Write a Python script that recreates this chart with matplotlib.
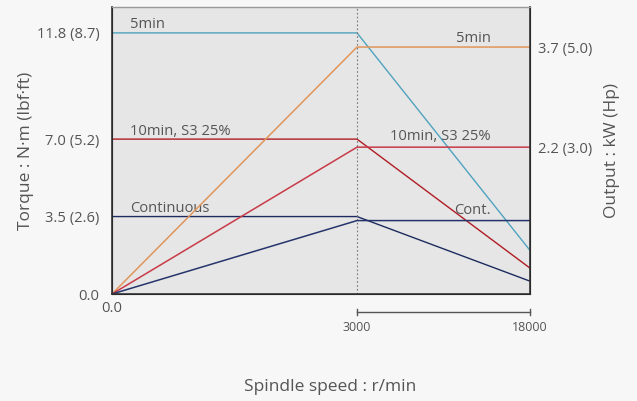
import numpy as np
import matplotlib
matplotlib.use('Agg')
from matplotlib import pyplot as plt
from matplotlib import transforms

plt.rcParams['font.family'] = ['Open Sans', 'DejaVu Sans']

# spindle speed points (r/min)
speed = [0, 3000, 18000]

# torque curves, N·m
torque_5min = [11.8, 11.8, 1.97]
torque_10min = [7.0, 7.0, 1.17]
torque_cont = [3.5, 3.5, 0.58]

# output curves, kW
power_5min = [0.0, 3.7, 3.7]
power_10min = [0.0, 2.2, 2.2]
power_cont = [0.0, 1.1, 1.1]

torque_ticks = [0.0, 3.5, 7.0, 11.8]
torque_labels = ['0.0', '3.5 (2.6)', '7.0 (5.2)', '11.8 (8.7)']
power_ticks = [2.2, 3.7]
power_labels = ['2.2 (3.0)', '3.7 (5.0)']

# x axis is piecewise: 0-3000 gets more room than 3000-18000
pos = [0, 245, 418]
fwd = lambda v: np.interp(v, speed, pos)
inv = lambda v: np.interp(v, pos, speed)

txt = '#555555'
fs = 10.6
fig = plt.figure(figsize=(6.37, 4.01), dpi=100, facecolor='#f7f7f7')
ax = fig.add_axes([112/637, 1-294/401, 418/637, 287/401])
ax.set_facecolor('#e6e6e6')
ax.set_xscale('function', functions=(fwd, inv))
ax.set_xlim(0, 18000)
ax.set_ylim(0, 12.97)

ax2 = ax.twinx()
ax2.set_ylim(0, 4.30)

ax.plot(speed, torque_5min, color='#4fa3bf', lw=1)
ax.plot(speed, torque_10min, color='#b01c24', lw=1)
ax.plot(speed, torque_cont, color='#1d2b5e', lw=1)
ax2.plot(speed, power_5min, color='#e0955a', lw=1.1)
ax2.plot(speed, power_10min, color='#c83a48', lw=1.1)
ax2.plot(speed, power_cont, color='#25356b', lw=1.1)

ax.axvline(3000, color='#777777', lw=0.8, ls=(0, (1.5, 2)))

ax.text(220, 12.0, '5min', fontsize=fs, color=txt)
ax.text(220, 7.2, '10min, S3 25%', fontsize=fs, color=txt)
ax.text(220, 3.7, 'Continuous', fontsize=fs, color=txt)
ax2.text(14600, 3.78, '5min', fontsize=fs, color=txt, ha='right')
ax2.text(14600, 2.3, '10min, S3 25%', fontsize=fs, color=txt, ha='right')
ax2.text(14600, 1.2, 'Cont.', fontsize=fs, color=txt, ha='right')

ax.set_yticks(torque_ticks)
ax.set_yticklabels(torque_labels)
ax2.set_yticks(power_ticks)
ax2.set_yticklabels(power_labels)
ax.set_xticks([0])
ax.set_xticklabels(['0.0'])
ax.tick_params(axis='y', length=0, labelsize=fs, labelcolor=txt, pad=9)
ax.tick_params(axis='x', length=0, labelsize=fs, labelcolor=txt, pad=5)
ax2.tick_params(axis='y', length=0, labelsize=fs, labelcolor=txt, pad=6)

# bracket under the high speed range
tr = transforms.blended_transform_factory(ax.transData, ax.transAxes)
yb = -18/287
ax.plot([3000, 18000], [yb, yb], color='#555555', lw=1, transform=tr, clip_on=False)
for xv in [3000, 18000]:
    ax.plot([xv, xv], [yb - 0.012, yb + 0.012], color='#555555', lw=1, transform=tr, clip_on=False)
    ax.text(xv, yb - 0.03, str(xv), transform=tr, ha='center', va='top', fontsize=9, color=txt)

for s in ['left', 'bottom', 'right']:
    ax2.spines[s].set_color('#333333')
    ax2.spines[s].set_linewidth(1.2)
ax2.spines['top'].set_color('#999999')
ax2.spines['top'].set_linewidth(0.8)

ax.set_ylabel('Torque : N·m (lbf·ft)', fontsize=12.5, color=txt, labelpad=2)
ax2.set_ylabel('Output : kW (Hp)', fontsize=12.5, color=txt, labelpad=8)
fig.text(330/637, 1-387/401, 'Spindle speed : r/min', fontsize=12.5, color=txt, ha='center', va='center')

fig.savefig('out.png', dpi=100, facecolor=fig.get_facecolor())
